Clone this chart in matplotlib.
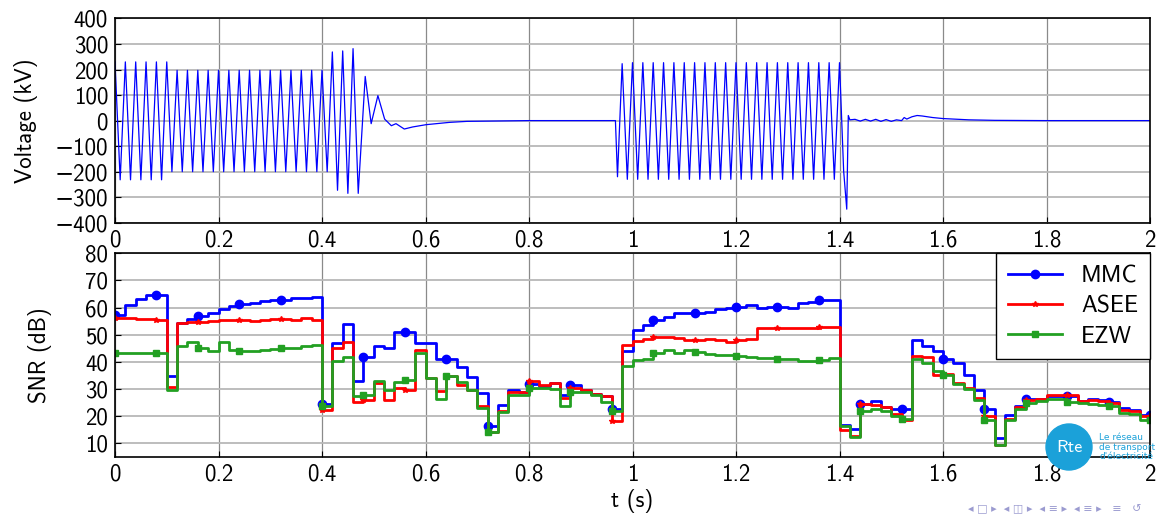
import matplotlib
matplotlib.use("Agg")
import matplotlib.pyplot as plt
import numpy as np
from matplotlib.patches import Circle
from matplotlib.transforms import IdentityTransform

plt.rcParams['font.family'] = ['cmss10', 'DejaVu Sans']
plt.rcParams['mathtext.fontset'] = 'cm'

# ---- voltage waveform (extrema) ----
volt_t_a = np.round(np.arange(0.0, 0.475, 0.01), 3)
volt_a = [230, -232, 230, -232, 230, -232, 230, -232, 230, -232, 230,
          -200, 197, -200, 197, -200, 197, -200, 197, -200, 197, -200,
          197, -200, 197, -200, 197, -200, 197, -200, 197, -200, 197,
          -200, 197, -200, 197, -200, 197, -200, 197, -200,
          269, -273, 273, -285, 282, -285]
volt_t_b = [0.4835, 0.495, 0.508, 0.521, 0.534, 0.543, 0.559, 0.575,
            0.601, 0.646, 0.68, 0.75, 0.80, 0.967, 0.971]
volt_b = [173, -12, 98, 6, -20, -12, -33, -25, -16, -7, -3, -1, 0, 0, -220]
volt_t_c = np.round(np.arange(0.98, 1.405, 0.01), 3)
volt_c = [223, -230, 227, -230, 227, -230, 227, -230, 227, -230, 227,
          -230, 227, -230, 227, -230, 227, -230, 227, -230, 227, -230,
          227, -230, 227, -230, 227, -230, 227, -230, 227, -230, 227,
          -230, 227, -230, 227, -230, 227, -230, 227, -230, 227]
volt_t_d = [1.408, 1.414, 1.417, 1.42, 1.43, 1.44, 1.45, 1.46, 1.47, 1.48,
            1.49, 1.50, 1.51, 1.52, 1.525, 1.53, 1.54, 1.55, 1.56, 1.58,
            1.60, 1.65, 1.70, 1.80, 2.00]
volt_d = [-197, -347, 20, 3, 5, -2, 5, -2, 5, -3, 4, -3, 3, 0, 12, 6, 15,
          20, 18, 12, 8, 3, 1, 0, 0]

# ---- SNR, one value per 20 ms frame ----
snr_t = np.round(np.arange(0.0, 2.001, 0.02), 2)
mmc = [57.3, 60.8, 63.3, 64.6, 64.6, 34.9, 54.3, 55.7, 57.0, 58.2,
       59.4, 60.6, 61.4, 61.8, 62.6, 62.8, 62.8, 63.4, 63.4, 63.8,
       24.4, 46.9, 54.0, 33.0, 41.8, 46.0, 45.0, 51.0, 51.0, 47.1,
       47.1, 41.2, 41.2, 38.3, 34.6, 28.7, 16.5, 24.2, 29.5, 29.1,
       31.9, 31.0, 32.2, 27.9, 31.6, 29.7, 28.3, 27.3, 22.6, 44.2,
       51.7, 53.6, 55.5, 56.7, 57.9, 57.9, 57.9, 58.5, 59.4, 59.8,
       60.4, 61.0, 59.8, 60.1, 60.4, 59.8, 61.6, 61.9, 62.8, 62.8,
       16.9, 15.3, 24.5, 25.8, 23.4, 22.6, 22.6, 48.1, 45.9, 44.2,
       41.0, 39.5, 35.3, 29.5, 22.6, 12.0, 20.3, 23.8, 26.5, 26.3,
       27.5, 27.5, 27.5, 25.8, 26.3, 26.1, 25.1, 23.0, 22.4, 20.6, 20.6]
asee = [56.0, 56.0, 55.8, 55.8, 55.6, 30.8, 54.5, 54.8, 54.8, 55.2,
        55.5, 55.5, 55.5, 55.2, 55.5, 55.8, 55.8, 55.5, 56.1, 55.5,
        22.4, 45.1, 47.5, 25.1, 26.1, 32.2, 26.1, 30.4, 29.7, 44.5,
        34.0, 29.4, 34.8, 31.4, 29.8, 23.6, 14.2, 22.1, 28.8, 28.8,
        32.8, 31.6, 32.2, 26.7, 30.4, 29.5, 28.3, 27.3, 18.1, 46.1,
        47.8, 48.5, 49.2, 49.1, 48.7, 48.1, 48.1, 48.4, 47.9, 47.5,
        47.9, 48.4, 52.4, 52.4, 52.4, 52.4, 52.6, 52.6, 53.0, 52.8,
        14.9, 12.6, 24.5, 24.2, 23.4, 20.9, 18.7, 42.2, 42.0, 35.3,
        35.6, 32.4, 30.4, 26.7, 20.0, 9.5, 19.0, 23.3, 26.0, 26.3,
        27.9, 27.9, 27.9, 25.5, 26.1, 25.5, 24.9, 22.4, 21.8, 20.2, 20.2]
ezw = [43.3, 43.3, 43.3, 43.3, 43.3, 29.7, 45.7, 47.2, 45.2, 44.0,
       47.5, 44.4, 44.1, 44.1, 44.3, 44.8, 45.3, 45.3, 45.8, 46.2,
       23.9, 40.2, 42.0, 27.3, 27.9, 33.0, 29.5, 32.5, 33.2, 43.2,
       34.0, 26.5, 34.9, 32.5, 29.7, 23.0, 14.2, 21.4, 27.9, 27.9,
       30.4, 30.4, 30.0, 23.9, 29.1, 29.1, 27.9, 25.1, 21.8, 38.6,
       40.8, 41.0, 43.2, 44.4, 43.2, 44.4, 43.5, 43.0, 42.6, 42.6,
       42.2, 41.8, 41.4, 41.4, 41.1, 41.0, 40.5, 40.5, 40.8, 41.4,
       16.5, 12.3, 21.8, 22.6, 22.1, 20.2, 19.0, 41.0, 39.5, 36.5,
       35.3, 32.0, 30.0, 26.1, 18.7, 9.5, 18.6, 22.8, 25.0, 25.8,
       26.3, 26.3, 25.1, 24.9, 24.6, 24.2, 23.9, 21.2, 20.9, 18.7, 18.7]

volt_t = np.concatenate([volt_t_a, volt_t_b, volt_t_c, volt_t_d])
volt = np.concatenate([volt_a, volt_b, volt_c, volt_d])

fig = plt.figure(figsize=(11.6, 5.18), dpi=100)
ax1 = fig.add_axes([115 / 1160, 1 - 222.7 / 518, 1035 / 1160, 204.2 / 518])
ax2 = fig.add_axes([115 / 1160, 1 - 457 / 518, 1035 / 1160, 203.7 / 518])

fs = 16.5
xt = np.round(np.arange(0, 2.01, 0.2), 1)
xlab = ['%g' % v for v in xt]


def style(ax):
    ax.set_xlim(0, 2)
    ax.set_xticks(xt)
    ax.set_xticklabels(xlab)
    ax.grid(True, axis='x', color='#8a8a8a', lw=0.9)
    ax.grid(True, axis='y', color='#b8b8b8', lw=1.3)
    ax.set_axisbelow(True)
    ax.tick_params(direction='in', labelsize=fs, length=4, pad=5)
    for s in ax.spines.values():
        s.set_linewidth(1.2)


ax1.plot(volt_t, volt, color='#0000ff', lw=0.9)
ax1.set_ylim(-400, 400)
ax1.set_yticks(np.arange(-400, 401, 100))
style(ax1)
ax1.set_ylabel('Voltage (kV)', fontsize=fs, labelpad=12)

ax2.plot(snr_t, mmc, drawstyle='steps-post', color='#0000ff', lw=2,
         marker='o', ms=6, markevery=4, label='MMC')
ax2.plot(snr_t, asee, drawstyle='steps-post', color='#ff0000', lw=2,
         marker='*', ms=4, markevery=4, label='ASEE')
ax2.plot(snr_t, ezw, drawstyle='steps-post', color='#22a022', lw=2,
         marker='s', ms=5, markevery=4, label='EZW')
ax2.set_ylim(5, 80)
ax2.set_yticks(np.arange(10, 81, 10))
style(ax2)
ax2.set_ylabel('SNR (dB)', fontsize=fs, labelpad=24)
ax2.set_xlabel('t (s)', fontsize=fs, labelpad=2)
leg = ax2.legend(loc='upper right', fontsize=17, fancybox=False,
                 framealpha=1, edgecolor='black', borderaxespad=0,
                 handlelength=2.3, labelspacing=0.35, borderpad=0.5)
leg.get_frame().set_linewidth(1.0)

# Rte logo (pixel coordinates, origin bottom-left)
logo = Circle((1069, 518 - 447), 23, transform=IdentityTransform(),
              color='#1ba1d9', zorder=10)
fig.add_artist(logo)
fig.text(1069 / 1160, 1 - 447 / 518, 'Rte', color='white', fontsize=13,
         ha='center', va='center', zorder=11)
fig.text(1099 / 1160, 1 - 447 / 518, 'Le réseau\nde transport\nd\'électricité',
         color='#1ba1d9', fontsize=6.5, ha='left', va='center', linespacing=1.1,
         family=['DejaVu Sans'], zorder=11)

# beamer navigation symbols
fig.text(1142 / 1160, 1 - 509 / 518,
         '◂ □ ▸  ◂ ◫ ▸  ◂ ≡ ▸  ◂ ≡ ▸   ≡   ↺',
         color='#9b9bd0', fontsize=8, ha='right', va='center',
         family=['DejaVu Sans'])

fig.savefig('out.png', dpi=100)
